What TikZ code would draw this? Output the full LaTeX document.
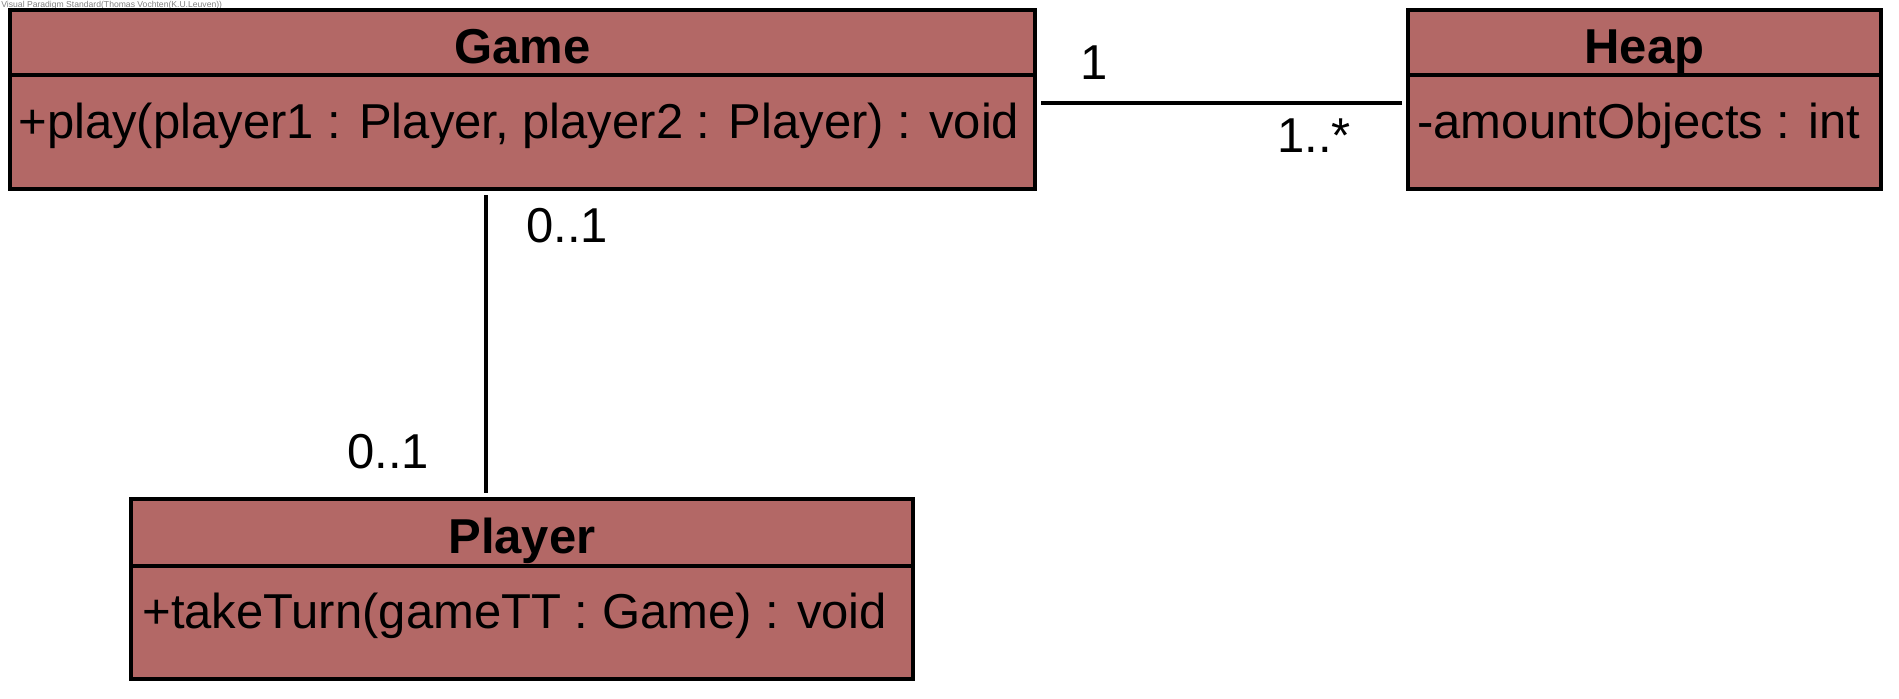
\documentclass[tikz,border=0pt]{standalone}
\usepackage{fontspec}
\setmainfont{Liberation Sans}
\usepackage{tikz}
\usetikzlibrary{positioning}

\definecolor{classfill}{RGB}{179,104,102}

\tikzset{
  classhead/.style={draw, fill=classfill, line width=1.8pt, inner sep=0pt, outer sep=0pt,
    text height=21pt, text depth=0pt,
    font=\fontsize{24.5}{28}\selectfont\bfseries},
  classbody/.style={draw, fill=classfill, line width=1.8pt, inner sep=0pt, outer sep=0pt},
  member/.style={anchor=west, inner sep=0pt, font=\fontsize{24.5}{28}\selectfont},
  mult/.style={inner sep=0pt, font=\fontsize{24.5}{28}\selectfont},
  assoc/.style={line width=1.6pt}
}

\begin{document}
\begin{tikzpicture}[x=1pt, y=1pt]
   \useasboundingbox (0,0) rectangle (949.5,-349);
   \node[anchor=north west, inner sep=0pt, text=gray,
     font=\fontsize{4.3}{5}\selectfont] (mark) at (0.5,-0.5)
     {Visual Paradigm Standard(Thomas Vochten(K.U.Leuven))};

   % classes
   \node[classhead, minimum width=512.5pt, minimum height=32.5pt, anchor=north west]
     (gameHead) at (5,-5) {Game};
   \node[classbody, minimum width=512.5pt, minimum height=57pt, below=0pt of gameHead]
     (gameBody) {};
   \node[member] (gameOp) at ([xshift=4pt,yshift=-25.5pt]gameBody.north west)
     {+play(player1 : Player, player2 : Player) : void};

   \node[classhead, minimum width=236.5pt, minimum height=32.5pt, anchor=north west]
     (heapHead) at (704,-5) {Heap};
   \node[classbody, minimum width=236.5pt, minimum height=57pt, below=0pt of heapHead]
     (heapBody) {};
   \node[member] (heapAttr) at ([xshift=4.5pt,yshift=-25.5pt]heapBody.north west)
     {-amountObjects : int};

   \node[classhead, minimum width=391pt, minimum height=33.5pt, anchor=north west]
     (playerHead) at (65.5,-249.5) {Player};
   \node[classbody, minimum width=391pt, minimum height=56.5pt, below=0pt of playerHead]
     (playerBody) {};
   \node[member] (playerOp) at ([xshift=5.5pt,yshift=-25pt]playerBody.north west)
     {+takeTurn(gameTT : Game) : void};

   % associations
   \draw[assoc, shorten <=3pt, shorten >=3pt]
     ([yshift=-14pt]gameBody.north east) -- ([yshift=-14pt]heapBody.north west);
   \draw[assoc, shorten <=3pt, shorten >=3pt]
     (gameBody.south west -| 243,0) coordinate (gp) -- (playerHead.north west -| gp);

   % multiplicities
   \node[mult] (mGame) at (547,-31.5) {1};
   \node[mult] (mHeap) at (657,-68) {1..*};
   \node[mult] (mTop) at (283.5,-113) {0..1};
   \node[mult] (mBottom) at (194,-226) {0..1};
\end{tikzpicture}
\end{document}
